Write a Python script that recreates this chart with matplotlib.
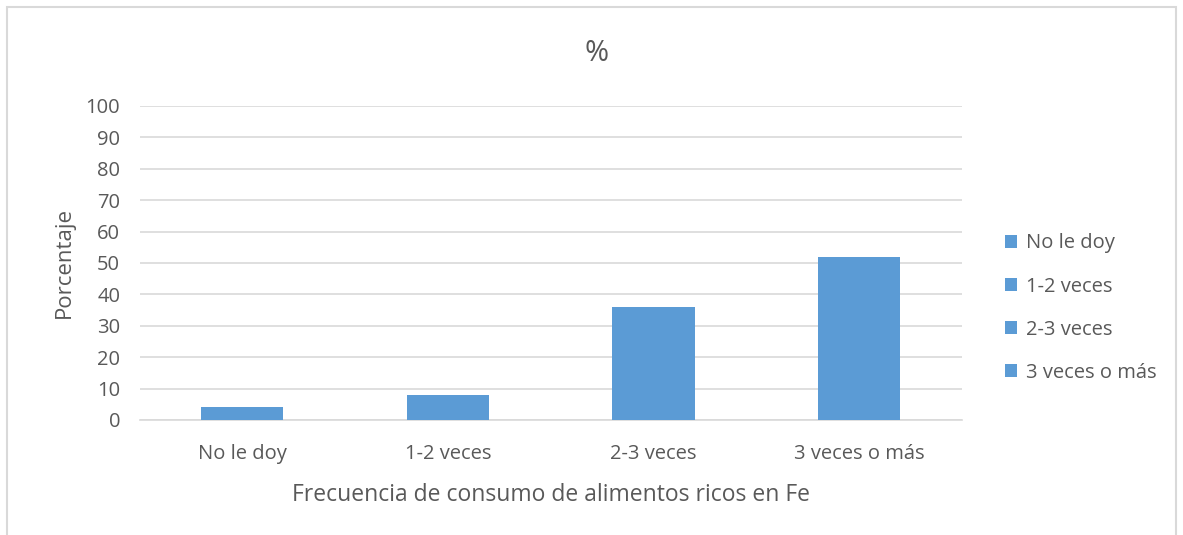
import matplotlib
matplotlib.use('Agg')
from matplotlib import pyplot as plt
from matplotlib.patches import Patch, Rectangle

# data
categories = ['No le doy', '1-2 veces', '2-3 veces', '3 veces o más']
values = [4, 8, 36, 52]
y_ticks = list(range(0, 101, 10))

BAR_COLOR = '#5B9BD5'
TEXT_COLOR = '#595959'
GRID_COLOR = '#D9D9D9'

plt.rcParams['font.family'] = ['Open Sans', 'DejaVu Sans']

fig = plt.figure(figsize=(11.83, 5.35), dpi=100)
ax = fig.add_axes([0.118, 0.215, 0.695, 0.587])

x = list(range(len(categories)))
ax.bar(x, values, width=0.4, color=BAR_COLOR, zorder=3)

ax.set_xlim(-0.5, len(categories) - 0.5)
ax.set_ylim(0, 100)
ax.set_yticks(y_ticks)
ax.set_xticks(x)
ax.set_xticklabels(categories)
ax.tick_params(axis='both', length=0, colors=TEXT_COLOR, labelsize=14.5)
ax.tick_params(axis='x', pad=17)
ax.tick_params(axis='y', pad=14)

ax.grid(axis='y', color=GRID_COLOR, linewidth=1.2, zorder=0)
for side in ['top', 'right', 'left']:
    ax.spines[side].set_visible(False)
ax.spines['bottom'].set_color(GRID_COLOR)
ax.spines['bottom'].set_linewidth(1.2)

ax.set_xlabel('Frecuencia de consumo de alimentos ricos en Fe', fontsize=16.5,
              color=TEXT_COLOR, labelpad=14)
ax.set_ylabel('Porcentaje', fontsize=16, color=TEXT_COLOR, labelpad=8)

fig.text(0.504, 0.9, '%', ha='center', va='center', fontsize=21, color=TEXT_COLOR)

handles = [Patch(facecolor=BAR_COLOR, edgecolor='none') for _ in categories]
leg = fig.legend(handles, categories, loc='center left', bbox_to_anchor=(0.834, 0.424),
                 frameon=False, fontsize=14.5, labelspacing=1.15,
                 handlelength=0.6, handleheight=0.6, handletextpad=0.45)
for t in leg.get_texts():
    t.set_color(TEXT_COLOR)

# light chart border, as in the spreadsheet export
fig.patches.append(Rectangle((0.006, -0.01), 0.988, 0.997, transform=fig.transFigure,
                             fill=False, edgecolor='#D9D9D9', linewidth=1.5))

fig.savefig('out.png', dpi=100, facecolor='white')
